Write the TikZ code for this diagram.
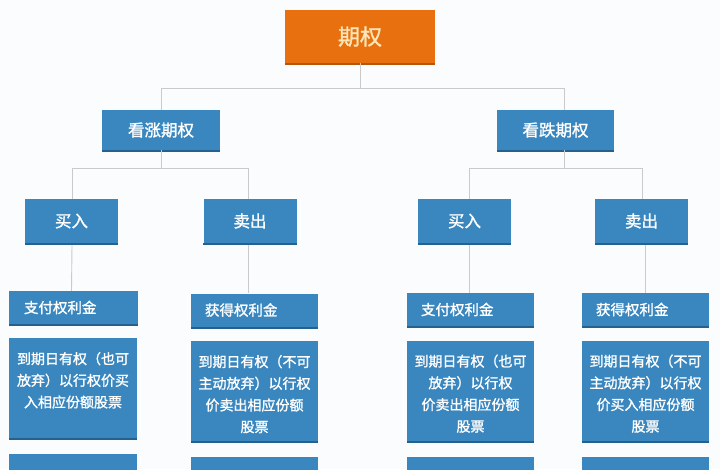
\documentclass[tikz,border=0pt]{standalone}
\usepackage{fontspec}
\newfontfamily\cjk[FakeBold=1.3]{Noto Sans CJK SC}
\definecolor{boxblue}{HTML}{3A87BF}
\definecolor{boxedge}{HTML}{24618E}
\definecolor{rootor}{HTML}{E8700F}
\definecolor{rootedge}{HTML}{B5560C}
\definecolor{roottxt}{HTML}{FCE6B8}
\definecolor{linegray}{HTML}{CACACA}
\definecolor{bg}{HTML}{FBFCFD}
\tikzset{
  bluebox/.style={fill=boxblue, text=white, inner sep=0pt, font=\cjk\fontsize{16.5}{19}\selectfont},
  rootbox/.style={fill=rootor, text=roottxt, inner sep=0pt, minimum width=150pt, minimum height=53pt, font=\cjk\fontsize{22}{26}\selectfont},
  lvone/.style={bluebox, minimum height=40pt},
  lvtwo/.style={bluebox, minimum width=93pt, minimum height=44pt},
  lvthree/.style={bluebox, minimum width=127pt, minimum height=33pt},
  lvfour/.style={bluebox, minimum width=127pt, minimum height=100pt},
  lbltxt/.style={text=white, inner sep=0pt, font=\cjk\fontsize{14.5}{17}\selectfont},
  bodytxt/.style={text=white, inner sep=0pt, align=center, font=\cjk\fontsize{14}{21.7}\selectfont},
  conn/.style={draw=linegray, line width=0.9pt},
  edgeline/.style={draw=boxedge, line width=2pt},
}
\begin{document}
\begin{tikzpicture}[x=1pt,y=-1pt]
\fill[bg] (0,0) rectangle (720,469);
\useasboundingbox (0,0) rectangle (720,469);
\clip (0,0) rectangle (720,469);
% root
\node[rootbox] (root) at (360,36.5) {期权};
% level 1
\node[lvone, minimum width=118pt] (up) at (161,130) {看涨期权};
\node[lvone, minimum width=117pt] (down) at (555.5,130) {看跌期权};
% level 2
\node[lvtwo] (buyL) at (71.5,221) {买入};
\node[lvtwo] (sellL) at (250,221) {卖出};
\node[lvtwo] (buyR) at (464.5,221) {买入};
\node[lvtwo] (sellR) at (641.5,221) {卖出};
% level 3
\node[lvthree, minimum width=129pt] (payL) at (73.5,307.5) {};
\node[lbltxt, anchor=west] (payLt) at ([xshift=15pt]payL.west) {支付权利金};
\node[lvthree] (getL) at (254.5,310) {};
\node[lbltxt, anchor=west] (getLt) at ([xshift=14pt]getL.west) {获得权利金};
\node[lvthree] (payR) at (470.5,309.5) {};
\node[lbltxt, anchor=west] (payRt) at ([xshift=14pt]payR.west) {支付权利金};
\node[lvthree] (getR) at (645.5,309.5) {};
\node[lbltxt, anchor=west] (getRt) at ([xshift=14pt]getR.west) {获得权利金};
% level 4
\node[lvfour, minimum width=128pt] (expL) at (73,388) {};
\node[bodytxt, anchor=north] (expLt) at ([yshift=-14pt]expL.north) {到期日有权（也可\\放弃）以行权价买\\入相应份额股票};
\node[lvfour] (expL2) at (254.5,391) {};
\node[bodytxt, anchor=north] (expL2t) at ([yshift=-14pt]expL2.north) {到期日有权（不可\\主动放弃）以行权\\价卖出相应份额\\股票};
\node[lvfour] (expR) at (470.5,390.5) {};
\node[bodytxt, anchor=north] (expRt) at ([yshift=-14pt]expR.north) {到期日有权（也可\\放弃）以行权\\价卖出相应份额\\股票};
\node[lvfour] (expR2) at (645.5,390.5) {};
\node[bodytxt, anchor=north] (expR2t) at ([yshift=-14pt]expR2.north) {到期日有权（不可\\主动放弃）以行权\\价买入相应份额\\股票};
% level 5 (cut off)
\node[lvfour, minimum width=128pt, anchor=north] (moreL) at (73,454) {};
\node[lvfour, anchor=north] (moreL2) at (254.5,457) {};
\node[lvfour, anchor=north] (moreR) at (470.5,457) {};
\node[lvfour, anchor=north] (moreR2) at (645.5,457) {};
% bottom edges
\draw[draw=rootedge, line width=2pt] ([yshift=-1pt]root.south west) -- ([yshift=-1pt]root.south east);
\foreach \n in {up,down,buyL,sellL,buyR,sellR,payL,getL,payR,getR,expL,expL2,expR,expR2}
  \draw[edgeline] ([yshift=-1pt]\n.south west) -- ([yshift=-1pt]\n.south east);
% connectors
\coordinate (j0) at (360,88);
\coordinate (jL) at (161,168);
\coordinate (jR) at (564,168);
\draw[conn] (root.south) -- (j0);
\draw[conn] (j0) -| (up.north);
\draw[conn] (j0) -| ([xshift=8.5pt]down.north);
\draw[conn] (up.south) -- (jL);
\draw[conn] (jL) -| ([xshift=0.5pt]buyL.north);
\draw[conn] (jL) -| ([xshift=-2pt]sellL.north);
\draw[conn] ([xshift=8.5pt]down.south) -- (jR);
\draw[conn] (jR) -| ([xshift=4.5pt]buyR.north);
\draw[conn] (jR) -| ([xshift=0.5pt]sellR.north);
\draw[conn] ([xshift=0.5pt,yshift=-2pt]buyL.south) -- (buyL.south |- payL.north);
\draw[conn] ([xshift=-2pt,yshift=-2pt]sellL.south) -- ([xshift=-2pt]sellL.south |- getL.north);
\draw[conn] ([xshift=4.5pt,yshift=-2pt]buyR.south) -- ([xshift=4.5pt]buyR.south |- payR.north);
\draw[conn] ([xshift=3.5pt,yshift=-2pt]sellR.south) -- ([xshift=3.5pt]sellR.south |- getR.north);
\end{tikzpicture}
\end{document}
